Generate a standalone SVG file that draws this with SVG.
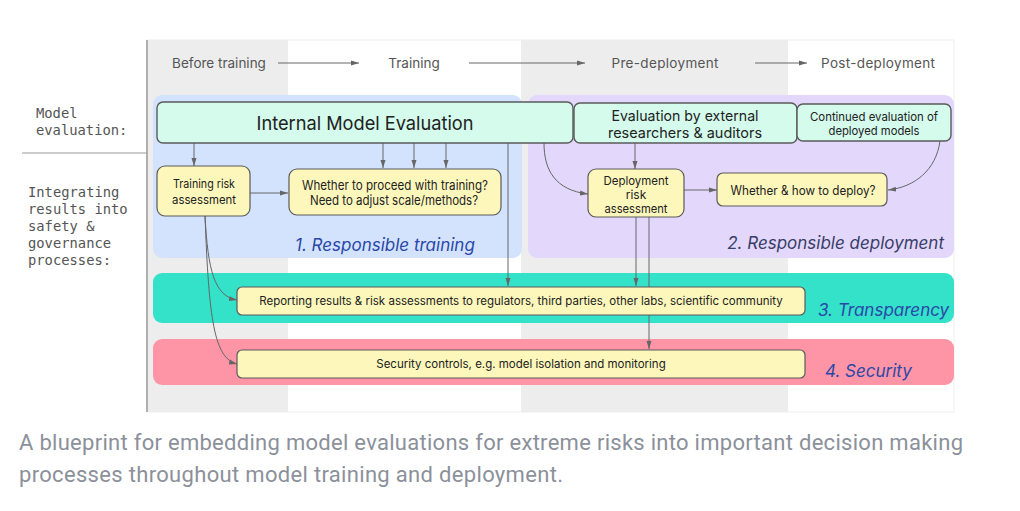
<svg xmlns="http://www.w3.org/2000/svg" width="1020" height="511" viewBox="0 0 1020 511">
<style>
.hdr{font-family:Inter,"DejaVu Sans",sans-serif;font-size:13.5px;fill:#555;text-anchor:middle;dominant-baseline:central}
.mono{font-family:"DejaVu Sans Mono","Liberation Mono",monospace;font-size:13.8px;fill:#555}
.mint{fill:#d4fbec;stroke:#5a5a5a;stroke-width:1.4}
.yel{fill:#fdf7bc;stroke:#5a5a5a;stroke-width:1.2}
.t{font-family:Inter,"DejaVu Sans",sans-serif;fill:#222;text-anchor:middle;dominant-baseline:central}
.lbl{font-family:Inter,"DejaVu Sans",sans-serif;font-style:italic;font-size:17px;fill:#2a47a8;dominant-baseline:central}
.con{fill:none;stroke:#666;stroke-width:1}
.cap{font-family:Roboto,"Liberation Sans",sans-serif;font-size:22px;fill:#8b909a}
</style>
<defs>
<marker id="ah" viewBox="0 0 8 6" refX="8" refY="3" markerWidth="8" markerHeight="6" markerUnits="userSpaceOnUse" orient="auto">
<path d="M0,0.5 L8,3 L0,5.5 Z" fill="#666"/>
</marker>
</defs>
<rect width="1020" height="511" fill="#fff"/>
<g id="columns">
<rect x="147" y="40" width="807" height="372" fill="#fff" stroke="#eee" stroke-width="1"/>
<rect x="147" y="40" width="141" height="372" fill="#ededed"/>
<rect x="521" y="40" width="267" height="372" fill="#ededed"/>
<line x1="147" y1="40" x2="147" y2="412" stroke="#999" stroke-width="1.5"/>
<line x1="22" y1="153" x2="147" y2="153" stroke="#999" stroke-width="1.2"/>
</g>
<g id="row-labels">
<text class="mono" x="36" y="118">Model</text>
<text class="mono" x="36" y="135">evaluation:</text>
<text class="mono" x="28" y="197">Integrating</text>
<text class="mono" x="28" y="214">results into</text>
<text class="mono" x="28" y="231">safety &amp;</text>
<text class="mono" x="28" y="248">governance</text>
<text class="mono" x="28" y="265">processes:</text>
</g>
<g id="timeline">
<text class="hdr" x="219" y="63">Before training</text>
<text class="hdr" x="414" y="63">Training</text>
<text class="hdr" x="665" y="63" textLength="107">Pre-deployment</text>
<text class="hdr" x="878" y="63" textLength="114">Post-deployment</text>
<line class="con" x1="278" y1="63" x2="359" y2="63" marker-end="url(#ah)"/>
<line class="con" x1="469" y1="63" x2="585" y2="63" marker-end="url(#ah)"/>
<line class="con" x1="755" y1="63" x2="807" y2="63" marker-end="url(#ah)"/>
</g>
<g id="areas">
<rect id="responsible-training" x="153" y="95" width="369" height="163" rx="9" fill="#d3e3fd"/>
<rect id="responsible-deployment" x="528" y="95" width="426" height="163" rx="9" fill="#e3d8fc"/>
<rect id="transparency" x="153" y="273" width="801" height="50" rx="9" fill="#34e1c9"/>
<rect id="security" x="153" y="339" width="801" height="46" rx="9" fill="#fe95a7"/>
<text class="lbl" x="295" y="245">1. Responsible training</text>
<text class="lbl" x="944" y="243" text-anchor="end" style="fill:#383d66">2. Responsible deployment</text>
<text class="lbl" x="818" y="310" font-size="18">3. Transparency</text>
<text class="lbl" x="825" y="371" font-size="18">4. Security</text>
</g>
<g id="connectors">
<line class="con" x1="194" y1="143" x2="194" y2="166" marker-end="url(#ah)"/>
<line class="con" x1="383" y1="143" x2="383" y2="168" marker-end="url(#ah)"/>
<line class="con" x1="414" y1="143" x2="414" y2="168" marker-end="url(#ah)"/>
<line class="con" x1="446" y1="143" x2="446" y2="168" marker-end="url(#ah)"/>
<line class="con" x1="250" y1="193" x2="288" y2="193" marker-end="url(#ah)"/>
<line class="con" x1="508" y1="143" x2="508" y2="286" marker-end="url(#ah)"/>
<path class="con" d="M544,143 C544,170 555,190 588,194" marker-end="url(#ah)"/>
<line class="con" x1="635" y1="143" x2="635" y2="169" marker-end="url(#ah)"/>
<line class="con" x1="684" y1="190" x2="717" y2="190" marker-end="url(#ah)"/>
<path class="con" d="M940,141 C936,170 915,187 888,190" marker-end="url(#ah)"/>
<line class="con" x1="636" y1="217" x2="636" y2="286" marker-end="url(#ah)"/>
<line class="con" x1="649" y1="217" x2="649" y2="349" marker-end="url(#ah)"/>
<path class="con" d="M205,216 C208,270 214,296 237,300" marker-end="url(#ah)"/>
<path class="con" d="M205,216 C209,320 214,358 237,364" marker-end="url(#ah)"/>
</g>
<g id="internal-model-evaluation">
<rect class="mint" x="157" y="102" width="416" height="41" rx="6"/>
<text class="t" x="365" y="123" font-size="19" textLength="217" lengthAdjust="spacingAndGlyphs">Internal Model Evaluation</text>
</g>
<g id="external-evaluation">
<rect class="mint" x="574" y="103" width="223" height="40" rx="6"/>
<text class="t" x="685" y="115" font-size="14.5" textLength="147" lengthAdjust="spacingAndGlyphs">Evaluation by external</text>
<text class="t" x="685" y="132" font-size="14.5" textLength="154" lengthAdjust="spacingAndGlyphs">researchers &amp; auditors</text>
</g>
<g id="continued-evaluation">
<rect class="mint" x="797" y="104" width="154" height="37" rx="6"/>
<text class="t" x="874" y="116" font-size="12" textLength="128" lengthAdjust="spacingAndGlyphs">Continued evaluation of</text>
<text class="t" x="874" y="130" font-size="12" textLength="91" lengthAdjust="spacingAndGlyphs">deployed models</text>
</g>
<g id="training-risk-assessment">
<rect class="yel" x="157" y="166" width="93" height="50" rx="8"/>
<text class="t" x="204" y="183" font-size="12" textLength="62" lengthAdjust="spacingAndGlyphs">Training risk</text>
<text class="t" x="204" y="199" font-size="12" textLength="64" lengthAdjust="spacingAndGlyphs">assessment</text>
</g>
<g id="proceed-decision">
<rect class="yel" x="289" y="169" width="212" height="46" rx="8"/>
<text class="t" x="395" y="185" font-size="13" textLength="186" lengthAdjust="spacingAndGlyphs">Whether to proceed with training?</text>
<text class="t" x="394" y="200" font-size="13" textLength="168" lengthAdjust="spacingAndGlyphs">Need to adjust scale/methods?</text>
</g>
<g id="deployment-risk-assessment">
<rect class="yel" x="588" y="169" width="96" height="48" rx="8"/>
<text class="t" x="636" y="180" font-size="12" textLength="65" lengthAdjust="spacingAndGlyphs">Deployment</text>
<text class="t" x="636" y="194" font-size="12">risk</text>
<text class="t" x="636" y="208" font-size="12" textLength="63" lengthAdjust="spacingAndGlyphs">assessment</text>
</g>
<g id="deploy-decision">
<rect class="yel" x="717" y="173" width="170" height="33" rx="6"/>
<text class="t" x="803" y="190" font-size="12.5" textLength="145" lengthAdjust="spacingAndGlyphs">Whether &amp; how to deploy?</text>
</g>
<g id="reporting">
<rect class="yel" x="237" y="287" width="568" height="28" rx="5"/>
<text class="t" x="521" y="301" font-size="11.5">Reporting results &amp; risk assessments to regulators, third parties, other labs, scientific community</text>
</g>
<g id="security-controls">
<rect class="yel" x="237" y="350" width="568" height="28" rx="5"/>
<text class="t" x="521" y="364" font-size="11.5">Security controls, e.g. model isolation and monitoring</text>
</g>
<g id="caption">
<text class="cap" x="19" y="450" textLength="944">A blueprint for embedding model evaluations for extreme risks into important decision making</text>
<text class="cap" x="19" y="482" textLength="544">processes throughout model training and deployment.</text>
</g>
</svg>
